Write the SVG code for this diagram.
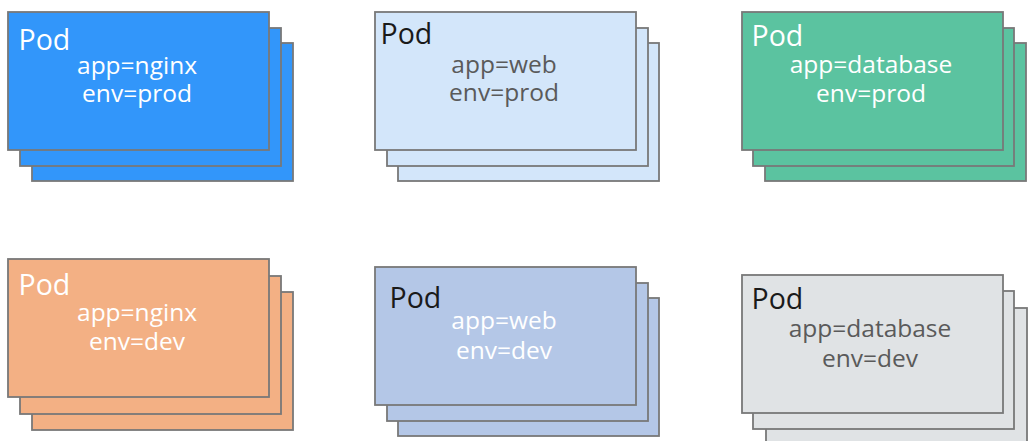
<svg xmlns="http://www.w3.org/2000/svg" width="1028" height="441" viewBox="0 0 1028 441">
<style>
rect.card{stroke:#787878;stroke-width:1.8}
.blue{fill:#3296fa}
.lblue{fill:#d3e6fa}
.green{fill:#5bc3a0}
.orange{fill:#f3b084}
.slate{fill:#b4c7e7}
.grey{fill:#e0e3e5}
text{font-family:"Open Sans","Noto Sans","DejaVu Sans",sans-serif}
.pod{font-size:28.5px}
.lbl{font-size:24.5px;text-anchor:middle}
.w{fill:#ffffff}
.k{fill:#1a1a1a}
.d{fill:#5a5a5a}
</style>
<rect x="0" y="0" width="1028" height="441" fill="#ffffff"/>
<g id="pod-nginx-prod">
<rect class="card blue" x="32" y="43" width="261" height="138"/>
<rect class="card blue" x="20" y="28" width="261" height="138"/>
<rect class="card blue" x="8" y="12" width="261" height="138"/>
<text class="pod w" x="18.5" y="50">Pod</text>
<text class="lbl w" x="137" y="74">app=nginx</text>
<text class="lbl w" x="137" y="102">env=prod</text>
</g>
<g id="pod-web-prod">
<rect class="card lblue" x="398" y="43" width="261" height="138"/>
<rect class="card lblue" x="387" y="28" width="261" height="138"/>
<rect class="card lblue" x="375" y="12" width="261" height="138"/>
<text class="pod k" x="380.5" y="44">Pod</text>
<text class="lbl d" x="504" y="73">app=web</text>
<text class="lbl d" x="504" y="101">env=prod</text>
</g>
<g id="pod-database-prod">
<rect class="card green" x="765" y="43" width="261" height="138"/>
<rect class="card green" x="753" y="28" width="261" height="138"/>
<rect class="card green" x="742" y="12" width="261" height="138"/>
<text class="pod w" x="751.5" y="46">Pod</text>
<text class="lbl w" x="871" y="73">app=database</text>
<text class="lbl w" x="871" y="102">env=prod</text>
</g>
<g id="pod-nginx-dev">
<rect class="card orange" x="32" y="292" width="261" height="138"/>
<rect class="card orange" x="20" y="276" width="261" height="138"/>
<rect class="card orange" x="8" y="259" width="261" height="138"/>
<text class="pod w" x="18.5" y="295">Pod</text>
<text class="lbl w" x="137" y="321">app=nginx</text>
<text class="lbl w" x="137" y="350">env=dev</text>
</g>
<g id="pod-web-dev">
<rect class="card slate" x="398" y="298" width="261" height="138"/>
<rect class="card slate" x="387" y="283" width="261" height="138"/>
<rect class="card slate" x="375" y="267" width="261" height="138"/>
<text class="pod k" x="389.5" y="308">Pod</text>
<text class="lbl w" x="504" y="329">app=web</text>
<text class="lbl w" x="504" y="359">env=dev</text>
</g>
<g id="pod-database-dev">
<rect class="card grey" x="766" y="308" width="261" height="138"/>
<rect class="card grey" x="753" y="291" width="261" height="138"/>
<rect class="card grey" x="742" y="275" width="261" height="138"/>
<text class="pod k" x="751.5" y="309">Pod</text>
<text class="lbl d" x="870" y="337">app=database</text>
<text class="lbl d" x="870" y="367">env=dev</text>
</g>
<g id="connectors"/>
</svg>
